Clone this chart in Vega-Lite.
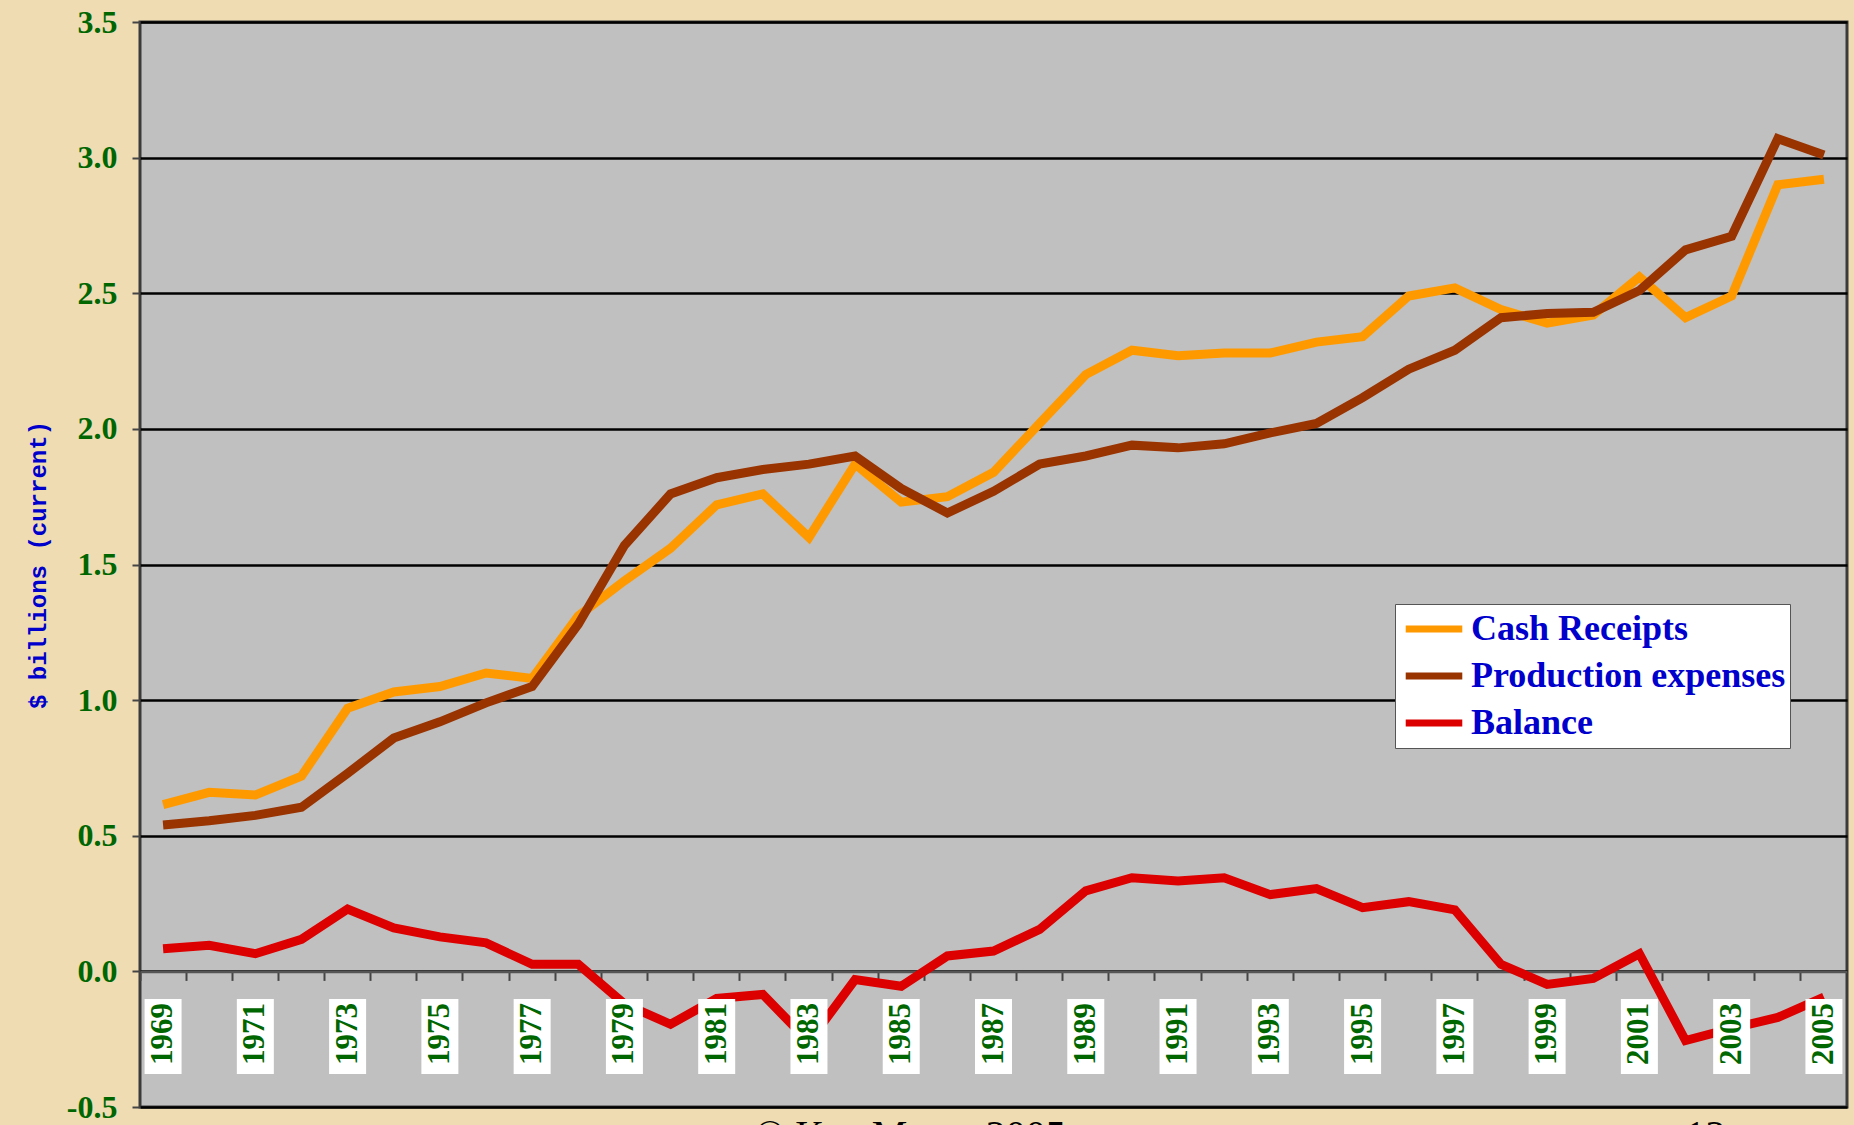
{
  "$schema": "https://vega.github.io/schema/vega-lite/v6.json",
  "width": 1707,
  "height": 1085,
  "autosize": {"type": "none"},
  "padding": {"left": 140, "top": 22, "right": 7, "bottom": 18},
  "background": "#EFDCB2",
  "config": {
    "view": {"fill": "#C0C0C0", "stroke": "#3a3a3a", "strokeWidth": 3}
  },
  "data": {
    "values": [
      {"year": 1969, "series": "Cash Receipts", "value": 0.615},
      {"year": 1970, "series": "Cash Receipts", "value": 0.66},
      {"year": 1971, "series": "Cash Receipts", "value": 0.65},
      {"year": 1972, "series": "Cash Receipts", "value": 0.72},
      {"year": 1973, "series": "Cash Receipts", "value": 0.97},
      {"year": 1974, "series": "Cash Receipts", "value": 1.03},
      {"year": 1975, "series": "Cash Receipts", "value": 1.05},
      {"year": 1976, "series": "Cash Receipts", "value": 1.10},
      {"year": 1977, "series": "Cash Receipts", "value": 1.08},
      {"year": 1978, "series": "Cash Receipts", "value": 1.31},
      {"year": 1979, "series": "Cash Receipts", "value": 1.44},
      {"year": 1980, "series": "Cash Receipts", "value": 1.56},
      {"year": 1981, "series": "Cash Receipts", "value": 1.72},
      {"year": 1982, "series": "Cash Receipts", "value": 1.76},
      {"year": 1983, "series": "Cash Receipts", "value": 1.60},
      {"year": 1984, "series": "Cash Receipts", "value": 1.87},
      {"year": 1985, "series": "Cash Receipts", "value": 1.73},
      {"year": 1986, "series": "Cash Receipts", "value": 1.75},
      {"year": 1987, "series": "Cash Receipts", "value": 1.84},
      {"year": 1988, "series": "Cash Receipts", "value": 2.02},
      {"year": 1989, "series": "Cash Receipts", "value": 2.20},
      {"year": 1990, "series": "Cash Receipts", "value": 2.29},
      {"year": 1991, "series": "Cash Receipts", "value": 2.27},
      {"year": 1992, "series": "Cash Receipts", "value": 2.28},
      {"year": 1993, "series": "Cash Receipts", "value": 2.28},
      {"year": 1994, "series": "Cash Receipts", "value": 2.32},
      {"year": 1995, "series": "Cash Receipts", "value": 2.34},
      {"year": 1996, "series": "Cash Receipts", "value": 2.49},
      {"year": 1997, "series": "Cash Receipts", "value": 2.52},
      {"year": 1998, "series": "Cash Receipts", "value": 2.44},
      {"year": 1999, "series": "Cash Receipts", "value": 2.39},
      {"year": 2000, "series": "Cash Receipts", "value": 2.42},
      {"year": 2001, "series": "Cash Receipts", "value": 2.56},
      {"year": 2002, "series": "Cash Receipts", "value": 2.41},
      {"year": 2003, "series": "Cash Receipts", "value": 2.49},
      {"year": 2004, "series": "Cash Receipts", "value": 2.90},
      {"year": 2005, "series": "Cash Receipts", "value": 2.92},
      {"year": 1969, "series": "Production expenses", "value": 0.54},
      {"year": 1970, "series": "Production expenses", "value": 0.555},
      {"year": 1971, "series": "Production expenses", "value": 0.575},
      {"year": 1972, "series": "Production expenses", "value": 0.605},
      {"year": 1973, "series": "Production expenses", "value": 0.73},
      {"year": 1974, "series": "Production expenses", "value": 0.86},
      {"year": 1975, "series": "Production expenses", "value": 0.92},
      {"year": 1976, "series": "Production expenses", "value": 0.99},
      {"year": 1977, "series": "Production expenses", "value": 1.05},
      {"year": 1978, "series": "Production expenses", "value": 1.28},
      {"year": 1979, "series": "Production expenses", "value": 1.57},
      {"year": 1980, "series": "Production expenses", "value": 1.76},
      {"year": 1981, "series": "Production expenses", "value": 1.82},
      {"year": 1982, "series": "Production expenses", "value": 1.85},
      {"year": 1983, "series": "Production expenses", "value": 1.87},
      {"year": 1984, "series": "Production expenses", "value": 1.90},
      {"year": 1985, "series": "Production expenses", "value": 1.78},
      {"year": 1986, "series": "Production expenses", "value": 1.69},
      {"year": 1987, "series": "Production expenses", "value": 1.77},
      {"year": 1988, "series": "Production expenses", "value": 1.87},
      {"year": 1989, "series": "Production expenses", "value": 1.90},
      {"year": 1990, "series": "Production expenses", "value": 1.94},
      {"year": 1991, "series": "Production expenses", "value": 1.93},
      {"year": 1992, "series": "Production expenses", "value": 1.945},
      {"year": 1993, "series": "Production expenses", "value": 1.985},
      {"year": 1994, "series": "Production expenses", "value": 2.02},
      {"year": 1995, "series": "Production expenses", "value": 2.115},
      {"year": 1996, "series": "Production expenses", "value": 2.22},
      {"year": 1997, "series": "Production expenses", "value": 2.29},
      {"year": 1998, "series": "Production expenses", "value": 2.41},
      {"year": 1999, "series": "Production expenses", "value": 2.425},
      {"year": 2000, "series": "Production expenses", "value": 2.43},
      {"year": 2001, "series": "Production expenses", "value": 2.51},
      {"year": 2002, "series": "Production expenses", "value": 2.66},
      {"year": 2003, "series": "Production expenses", "value": 2.71},
      {"year": 2004, "series": "Production expenses", "value": 3.07},
      {"year": 2005, "series": "Production expenses", "value": 3.01},
      {"year": 1969, "series": "Balance", "value": 0.083},
      {"year": 1970, "series": "Balance", "value": 0.096},
      {"year": 1971, "series": "Balance", "value": 0.065},
      {"year": 1972, "series": "Balance", "value": 0.118},
      {"year": 1973, "series": "Balance", "value": 0.23},
      {"year": 1974, "series": "Balance", "value": 0.16},
      {"year": 1975, "series": "Balance", "value": 0.127},
      {"year": 1976, "series": "Balance", "value": 0.105},
      {"year": 1977, "series": "Balance", "value": 0.026},
      {"year": 1978, "series": "Balance", "value": 0.026},
      {"year": 1979, "series": "Balance", "value": -0.12},
      {"year": 1980, "series": "Balance", "value": -0.195},
      {"year": 1981, "series": "Balance", "value": -0.10},
      {"year": 1982, "series": "Balance", "value": -0.085},
      {"year": 1983, "series": "Balance", "value": -0.26},
      {"year": 1984, "series": "Balance", "value": -0.03},
      {"year": 1985, "series": "Balance", "value": -0.055},
      {"year": 1986, "series": "Balance", "value": 0.057},
      {"year": 1987, "series": "Balance", "value": 0.075},
      {"year": 1988, "series": "Balance", "value": 0.155},
      {"year": 1989, "series": "Balance", "value": 0.297},
      {"year": 1990, "series": "Balance", "value": 0.345},
      {"year": 1991, "series": "Balance", "value": 0.333},
      {"year": 1992, "series": "Balance", "value": 0.345},
      {"year": 1993, "series": "Balance", "value": 0.283},
      {"year": 1994, "series": "Balance", "value": 0.305},
      {"year": 1995, "series": "Balance", "value": 0.235},
      {"year": 1996, "series": "Balance", "value": 0.257},
      {"year": 1997, "series": "Balance", "value": 0.227},
      {"year": 1998, "series": "Balance", "value": 0.026},
      {"year": 1999, "series": "Balance", "value": -0.048},
      {"year": 2000, "series": "Balance", "value": -0.026},
      {"year": 2001, "series": "Balance", "value": 0.065},
      {"year": 2002, "series": "Balance", "value": -0.255},
      {"year": 2003, "series": "Balance", "value": -0.21},
      {"year": 2004, "series": "Balance", "value": -0.17},
      {"year": 2005, "series": "Balance", "value": -0.095}
    ]
  },
  "layer": [
    {
      "mark": {"type": "line", "strokeWidth": 9},
      "encoding": {
        "x": {
          "field": "year",
          "type": "ordinal",
          "scale": {"type": "band", "paddingInner": 0, "paddingOuter": 0},
          "axis": {
            "orient": "bottom",
            "offset": -135.6,
            "bandPosition": 0,
            "labels": false,
            "ticks": true,
            "tickSize": 9,
            "tickWidth": 2,
            "tickColor": "#444444",
            "domain": true,
            "domainColor": "#555555",
            "domainWidth": 2.5,
            "grid": false,
            "title": null,
            "zindex": 0
          }
        },
        "y": {
          "field": "value",
          "type": "quantitative",
          "scale": {"domain": [-0.5, 3.5], "nice": false, "zero": false},
          "axis": {
            "values": [-0.5, 0, 0.5, 1, 1.5, 2, 2.5, 3, 3.5],
            "labelExpr": "datum.value < 0 ? '-' + format(-datum.value, '.1f') : format(datum.value, '.1f')",
            "grid": true,
            "gridColor": "#000000",
            "gridWidth": 2.5,
            "gridOpacity": 1,
            "domain": false,
            "tickColor": "#444444",
            "tickSize": 8,
            "tickWidth": 2,
            "labelFont": "Liberation Serif",
            "labelFontWeight": "bold",
            "labelFontSize": 32,
            "labelColor": "#006600",
            "labelPadding": 15,
            "title": "$ billions (current)",
            "titleFont": "Liberation Mono",
            "titleFontWeight": "bold",
            "titleFontSize": 24,
            "titleColor": "#0000CC",
            "titlePadding": 16,
            "zindex": 0
          }
        },
        "color": {
          "field": "series",
          "type": "nominal",
          "scale": {
            "domain": ["Cash Receipts", "Production expenses", "Balance"],
            "range": ["#FF9900", "#993300", "#DD0000"]
          },
          "legend": {
            "title": null,
            "orient": "none",
            "legendX": 1255,
            "legendY": 582,
            "symbolType": "stroke",
            "symbolSize": 3200,
            "symbolStrokeWidth": 7,
            "symbolOffset": 3,
            "clipHeight": 42,
            "labelFont": "Liberation Serif",
            "labelFontWeight": "bold",
            "labelFontSize": 36,
            "labelColor": "#0000CC",
            "labelOffset": 5,
            "labelLimit": 600,
            "fillColor": "#FFFFFF",
            "strokeColor": "#555555",
            "padding": 4,
            "rowPadding": 5
          }
        }
      }
    },
    {
      "transform": [{"filter": "datum.series == 'Cash Receipts' && datum.year % 2 == 1"}],
      "mark": {"type": "bar", "color": "#FFFFFF", "width": 37},
      "encoding": {
        "x": {
          "field": "year",
          "type": "ordinal",
          "axis": {
            "orient": "bottom",
            "offset": -135.6,
            "ticks": false,
            "tickSize": 0,
            "domain": false,
            "grid": false,
            "labelAngle": 270,
            "labelAlign": "right",
            "labelBaseline": "middle",
            "labelPadding": 31,
            "labelOverlap": false,
            "labelExpr": "datum.value % 2 == 1 ? datum.label : ''",
            "labelFont": "Liberation Serif",
            "labelFontWeight": "bold",
            "labelFontSize": 31,
            "labelColor": "#006600",
            "title": null,
            "zindex": 1
          }
        },
        "y": {"datum": -0.102, "type": "quantitative"},
        "y2": {"datum": -0.378}
      }
    },
    {
      "data": {"values": [{}]},
      "mark": {"type": "text", "text": "© Ken Meter, 2005", "align": "left", "baseline": "top", "font": "Liberation Serif", "fontSize": 40, "color": "#000000", "dx": -8},
      "encoding": {
        "x": {"datum": 1982, "type": "ordinal", "axis": null},
        "y": {"datum": -0.533, "type": "quantitative"}
      }
    },
    {
      "data": {"values": [{}]},
      "mark": {"type": "text", "text": "12", "align": "left", "baseline": "top", "font": "Liberation Serif", "fontSize": 40, "color": "#000000"},
      "encoding": {
        "x": {"datum": 2002, "type": "ordinal", "axis": null},
        "y": {"datum": -0.533, "type": "quantitative"}
      }
    }
  ],
  "resolve": {"axis": {"x": "independent"}}
}
